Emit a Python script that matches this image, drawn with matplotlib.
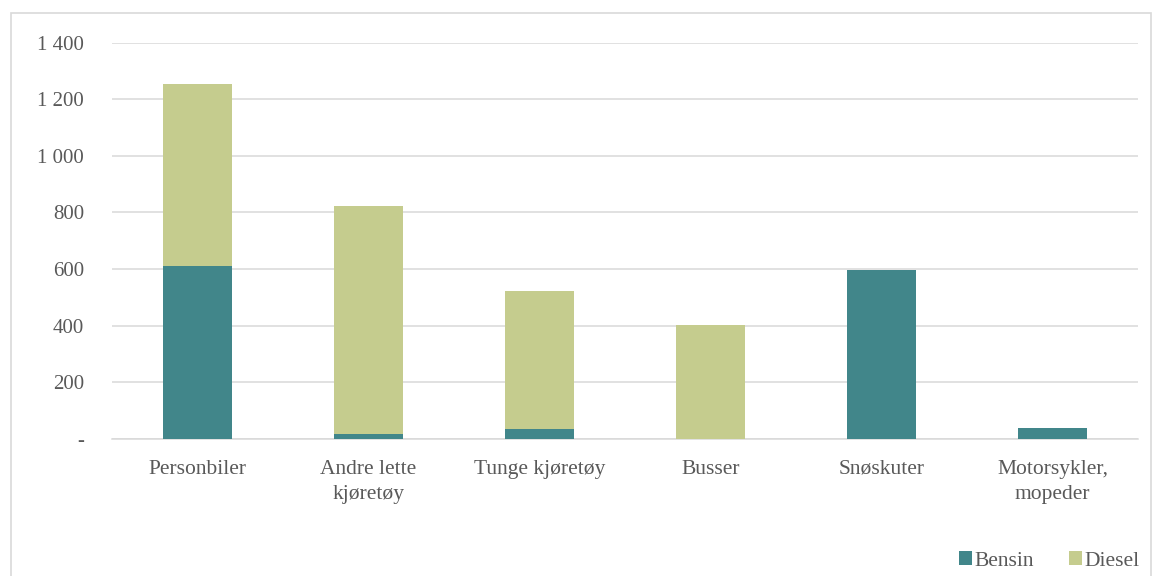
import matplotlib
matplotlib.use("Agg")
import matplotlib.pyplot as plt
from matplotlib.patches import Rectangle
from matplotlib.ticker import FuncFormatter

categories = ["Personbiler", "Andre lette\nkjøretøy", "Tunge kjøretøy", "Busser", "Snøskuter", "Motorsykler,\nmopeder"]
bensin = [611, 18, 35, 1, 596, 40]
diesel = [643, 805, 488, 401, 0, 0]
yticks = [0, 200, 400, 600, 800, 1000, 1200, 1400]

plt.rcParams['font.family'] = ['Liberation Serif', 'DejaVu Serif']
text_color = "#595959"
c_bensin = "#41868A"
c_diesel = "#C5CC8E"

fig = plt.figure(figsize=(11.55, 5.76), dpi=100)
ax = fig.add_axes([112/1155, 1-439/576, (1138-112)/1155, (439-42.5)/576])

x = list(range(len(categories)))
ax.bar(x, bensin, width=0.40, color=c_bensin, label="Bensin", zorder=3)
ax.bar(x, diesel, width=0.40, bottom=bensin, color=c_diesel, label="Diesel", zorder=3)

ax.set_xlim(-0.5, len(categories)-0.5)
ax.set_ylim(0, 1400)
ax.set_yticks(yticks)
ax.yaxis.set_major_formatter(FuncFormatter(lambda v, p: "-" if v == 0 else f"{int(v):,}".replace(",", " ")))
ax.set_xticks(x)
ax.set_xticklabels(categories, fontsize=15.5, color=text_color, linespacing=1.45)
ax.tick_params(axis='y', labelsize=15, colors=text_color, length=0, pad=20)
ax.tick_params(axis='x', length=0, pad=15)
ax.grid(axis='y', color="#D9D9D9", linewidth=1.1, zorder=0)
for s in ["top", "right", "left"]:
    ax.spines[s].set_visible(False)
ax.spines["bottom"].set_color("#D9D9D9")
ax.spines["bottom"].set_linewidth(1.1)

leg = fig.legend(loc="center right", bbox_to_anchor=(1140/1155, 1-561/576), ncol=2, frameon=False,
                 fontsize=15.5, handlelength=0.6, handleheight=0.6, handletextpad=0.15, columnspacing=1.6,
                 borderaxespad=0, borderpad=0)
for t in leg.get_texts():
    t.set_color(text_color)

fig.patches.append(Rectangle((11/1155, -0.02), (1151-11)/1155, 1-13/576+0.02, transform=fig.transFigure,
                             fill=False, edgecolor="#D9D9D9", linewidth=1.2))

fig.savefig("out.png", dpi=100)
